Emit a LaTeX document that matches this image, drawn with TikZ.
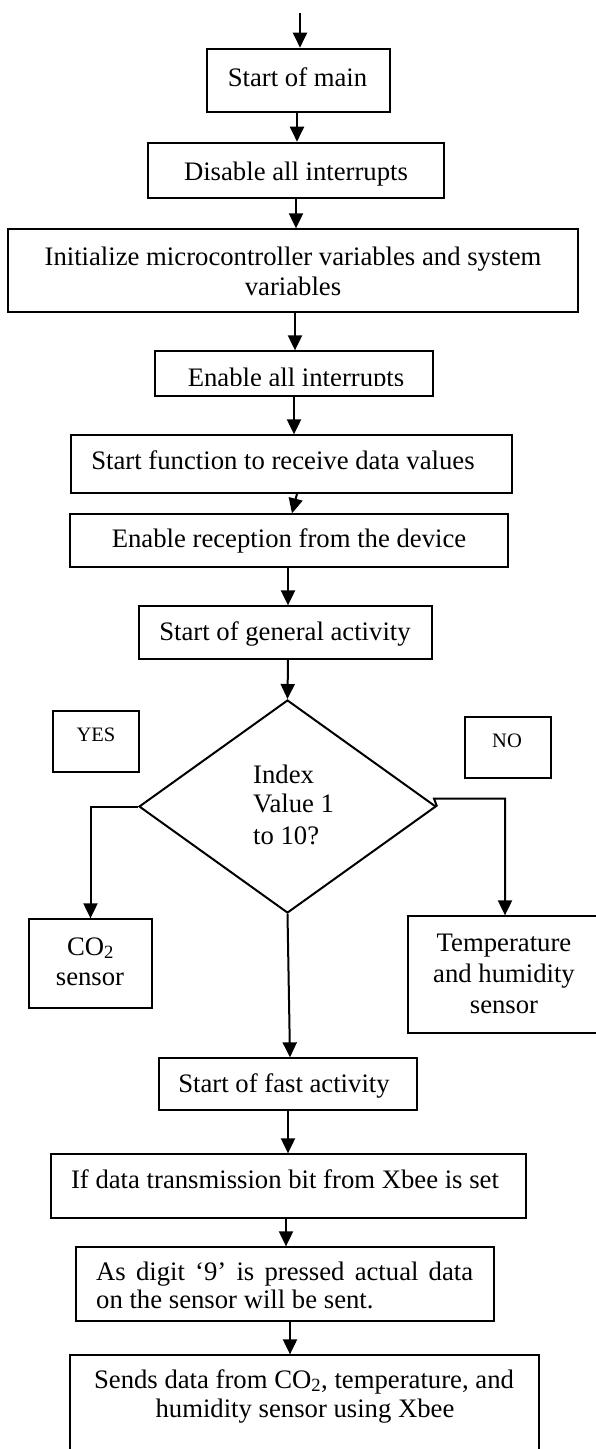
\documentclass[tikz,border=0pt]{standalone}
\usepackage{fontspec}
\setmainfont{Liberation Serif}
\usetikzlibrary{arrows.meta,shapes.geometric}
\newcommand\bigtxt{\fontsize{26.7}{30}\selectfont}
\newcommand\smalltxt{\fontsize{20.5}{24}\selectfont}
\tikzset{
  box/.style={draw, rectangle, line width=1.3pt, inner sep=0pt},
  tbox/.style={box, line width=2.6pt},
  txt/.style={inner sep=0pt, anchor=base, font=\bigtxt},
  ltxt/.style={txt, anchor=base west},
  stxt/.style={inner sep=0pt, anchor=base, font=\smalltxt},
  arr/.style={line width=2pt, -{Triangle[width=14pt,length=15pt]}},
  ln/.style={line width=2pt}
}
\begin{document}
\begin{tikzpicture}[x=1pt,y=-1pt]
\useasboundingbox (0,0) rectangle (595,1449);
% boxes
\node[tbox, minimum width=183pt, minimum height=63pt] (A) at (298.5,80.5) {};
\node[tbox, minimum width=296pt, minimum height=55pt] (B) at (296,170.5) {};
\node[box, minimum width=570pt, minimum height=83pt] (C) at (293,270.5) {};
\node[box, minimum width=278pt, minimum height=45pt] (D) at (294,373.5) {};
\node[box, minimum width=441pt, minimum height=58pt] (E) at (291.5,464) {};
\node[box, minimum width=438pt, minimum height=53pt] (F) at (289,540.5) {};
\node[box, minimum width=293pt, minimum height=53pt] (G) at (285.5,632.5) {};
\node[draw, diamond, line width=2pt, inner sep=0pt, minimum width=297pt, minimum height=213pt] (H) at (287.5,806.5) {};
\node[box, minimum width=86pt, minimum height=61pt] (Y) at (96,741.5) {};
\node[box, minimum width=86pt, minimum height=61pt] (NN) at (508,747.5) {};
\node[box, minimum width=123pt, minimum height=89pt] (I) at (90.5,963.5) {};
\node[box, minimum width=190pt, minimum height=117pt] (J) at (503,974.5) {};
\node[box, minimum width=258pt, minimum height=52pt] (K) at (288,1084) {};
\node[box, minimum width=475pt, minimum height=64pt] (L) at (288.5,1186) {};
\node[box, minimum width=418pt, minimum height=74pt] (M) at (285,1284) {};
\node[box, minimum width=469pt, minimum height=105pt] (N) at (304.5,1407.5) {};
% texts
\node[txt] (At) at (297.5,86) {Start of main};
\node[txt] (Bt) at (296,180) {Disable all interrupts};
\node[txt] (Ct1) at (293,265) {Initialize microcontroller variables and system};
\node[txt] (Ct2) at (293,295) {variables};
\begin{scope}
\clip (155,351) rectangle (433,385);
\node[txt] (Dt) at (296,386) {Enable all interrupts};
\end{scope}
\node[txt] (Et) at (283,469) {Start function to receive data values};
\node[txt] (Ft) at (289,547) {Enable reception from the device};
\node[txt] (Gt) at (285,640) {Start of general activity};
\node[ltxt] (Ht1) at (253,783) {Index};
\node[ltxt] (Ht2) at (253,812) {Value 1};
\node[ltxt] (Ht3) at (253,844) {to 10?};
\node[stxt] (Yt) at (96,741) {YES};
\node[stxt] (NNt) at (507,747) {NO};
\node[txt] (It1) at (90.5,955) {CO\textsubscript{2}};
\node[txt] (It2) at (90,985) {sensor};
\node[txt] (Jt1) at (504,951) {Temperature};
\node[txt] (Jt2) at (504,982) {and humidity};
\node[txt] (Jt3) at (504,1013) {sensor};
\node[txt] (Kt) at (284,1092) {Start of fast activity};
\node[txt] (Lt) at (285,1188) {If data transmission bit from Xbee is set};
\node[ltxt] (Mt1) at (96,1280) {\makebox[377pt][s]{As digit ‘9’ is pressed actual data}};
\node[ltxt] (Mt2) at (96,1308) {on the sensor will be sent.};
\node[txt] (Nt1) at (304,1388) {Sends data from CO\textsubscript{2}, temperature, and};
\node[txt] (Nt2) at (305,1417) {humidity sensor using Xbee};
% connectors
\coordinate (top) at (300,13);
\draw[arr] (top) -- ([xshift=1.5pt]A.north);
\draw[arr] ([xshift=-1.5pt]A.south) -- ([xshift=1pt]B.north);
\draw[arr] (B.south) -- ([xshift=3pt]C.north);
\draw[arr] ([xshift=2pt]C.south) -- ([xshift=1pt]D.north);
\draw[arr] (D.south) -- ([xshift=2.5pt]E.north);
\draw[arr] ([xshift=5.5pt]E.south) -- ([xshift=3pt]F.north);
\draw[arr] ([xshift=-1pt]F.south) -- ([xshift=2.5pt]G.north);
\draw[arr] ([xshift=2.5pt]G.south) -- (H.north);
\draw[arr] (H.west) -| (I.north);
\draw[arr] (H.east) -- ++(-3,-8) -| ([xshift=2pt]J.north);
\draw[arr] (H.south) -- ([xshift=2pt]K.north);
\draw[arr] (K.south) -- ([xshift=-0.5pt]L.north);
\draw[arr] ([xshift=-2.5pt]L.south) -- ([xshift=1pt]M.north);
\draw[arr] ([xshift=5pt]M.south) -- ([xshift=-14.5pt]N.north);
\end{tikzpicture}
\end{document}
